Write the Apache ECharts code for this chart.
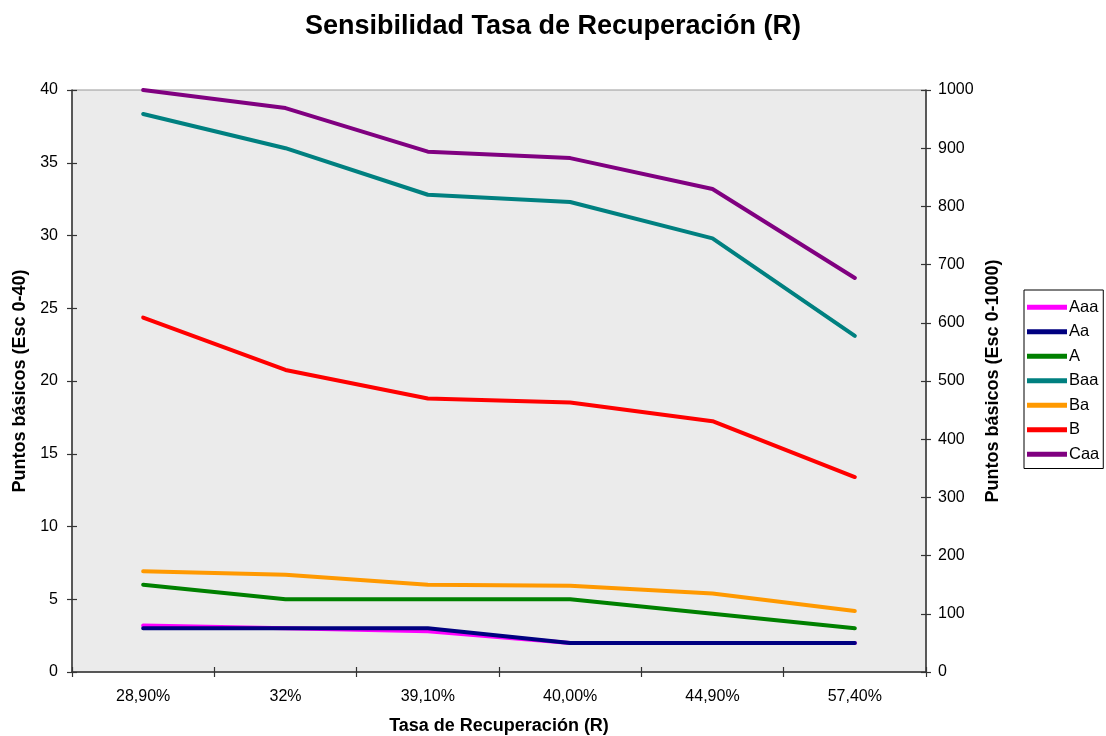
<!DOCTYPE html>
<html><head><meta charset="utf-8">
<script src="https://cdn.jsdelivr.net/npm/echarts@6/dist/echarts.min.js"></script>
<style>html,body{margin:0;padding:0;background:#fff}#c{width:1106px;height:736px}</style>
</head><body><div id="c"></div>
<script>
const categories = ['28,90%', '32%', '39,10%', '40,00%', '44,90%', '57,40%'];
const leftTicks = [0, 5, 10, 15, 20, 25, 30, 35, 40];
const rightTicks = [0, 100, 200, 300, 400, 500, 600, 700, 800, 900, 1000];
// Left axis (Esc 0-40)
const Aaa = [3.2, 3.0, 2.8, 2.0, 2.0, 2.0];
const Aa  = [3.0, 3.0, 3.0, 2.0, 2.0, 2.0];
const A   = [6.0, 5.0, 5.0, 5.0, 4.0, 3.0];
const Baa = [38.35, 36.0, 32.8, 32.3, 29.8, 23.1];
// Right axis (Esc 0-1000)
const Ba  = [173, 167, 150, 148, 135, 105];
const B   = [609, 519, 470, 463, 431, 335];
const Caa = [1000, 969, 894, 883, 830, 677];

const font = 'Liberation Sans, Arial, sans-serif';
const chart = echarts.init(document.getElementById('c'));
function mk(name, data, color, yIdx) {
  return { name, type: 'line', data, yAxisIndex: yIdx, xAxisIndex: 0, symbol: 'none',
    lineStyle: { color, width: 4, cap: 'round', join: 'round' }, itemStyle: { color }, animation: false };
}
const axisLine = { show: true, lineStyle: { color: '#333', width: 1.5 } };
const tickStyle = { color: '#333', width: 1.2 };
chart.setOption({
  animation: false,
  title: { text: 'Sensibilidad Tasa de Recuperación (R)', left: 'center', top: 8,
    textStyle: { fontFamily: font, fontSize: 27, fontWeight: 'bold', color: '#000' } },
  grid: { left: 72, right: 180, top: 90, bottom: 64, outerBoundsMode: 'none', containLabel: false,
    show: true, backgroundColor: '#ebebeb', borderColor: '#999', borderWidth: 1 },
  legend: { orient: 'vertical', left: 1024, top: 290, padding: [8, 4, 5, 3], borderColor: '#000', borderWidth: 1,
    icon: 'rect', itemWidth: 40, itemHeight: 5, itemGap: 6, textStyle: { fontFamily: font, fontSize: 16.5, color: '#000', padding: [0, 0, 0, -3], lineHeight: 18.5 },
    data: ['Aaa', 'Aa', 'A', 'Baa', 'Ba', 'B', 'Caa'] },
  xAxis: [
    { type: 'category', data: categories, boundaryGap: true, position: 'bottom',
      name: 'Tasa de Recuperación (R)', nameLocation: 'middle', nameGap: 45,
      nameTextStyle: { fontFamily: font, fontSize: 18, fontWeight: 'bold', color: '#000' },
      axisLine, axisTick: { show: true, length: 5, lineStyle: tickStyle },
      axisLabel: { fontFamily: font, fontSize: 16, color: '#000', margin: 17 }, splitLine: { show: false } },
    { type: 'category', data: categories, boundaryGap: true, position: 'bottom',
      axisLine: { show: false }, axisTick: { show: true, inside: true, length: 5, lineStyle: tickStyle },
      axisLabel: { show: false }, splitLine: { show: false } }
  ],
  yAxis: [
    { type: 'value', min: 0, max: 40, interval: 5, position: 'left',
      name: 'Puntos básicos (Esc 0-40)', nameLocation: 'middle', nameGap: 41, nameRotate: 90,
      nameTextStyle: { fontFamily: font, fontSize: 18, fontWeight: 'bold', color: '#000' },
      axisLine, axisTick: { show: true, length: 5, lineStyle: tickStyle },
      axisLabel: { fontFamily: font, fontSize: 16, color: '#000', margin: 14 }, splitLine: { show: false } },
    { type: 'value', min: 0, max: 1000, interval: 100, position: 'right',
      name: 'Puntos básicos (Esc 0-1000)', nameLocation: 'middle', nameGap: 58, nameRotate: 90,
      nameTextStyle: { fontFamily: font, fontSize: 18, fontWeight: 'bold', color: '#000' },
      axisLine, axisTick: { show: true, length: 5, lineStyle: tickStyle },
      axisLabel: { fontFamily: font, fontSize: 16, color: '#000', margin: 12, formatter: v => String(v) }, splitLine: { show: false } },
    { type: 'value', min: 0, max: 40, interval: 5, position: 'left',
      axisLine: { show: false }, axisTick: { show: true, inside: true, length: 5, lineStyle: tickStyle },
      axisLabel: { show: false }, splitLine: { show: false } },
    { type: 'value', min: 0, max: 1000, interval: 100, position: 'right',
      axisLine: { show: false }, axisTick: { show: true, inside: true, length: 5, lineStyle: tickStyle },
      axisLabel: { show: false }, splitLine: { show: false } }
  ],
  series: [
    mk('Aaa', Aaa, '#ff00ff', 0),
    mk('Aa', Aa, '#000080', 0),
    mk('A', A, '#008000', 0),
    mk('Baa', Baa, '#008080', 0),
    mk('Ba', Ba, '#ff9900', 1),
    mk('B', B, '#ff0000', 1),
    mk('Caa', Caa, '#800080', 1)
  ]
});
</script></body></html>
